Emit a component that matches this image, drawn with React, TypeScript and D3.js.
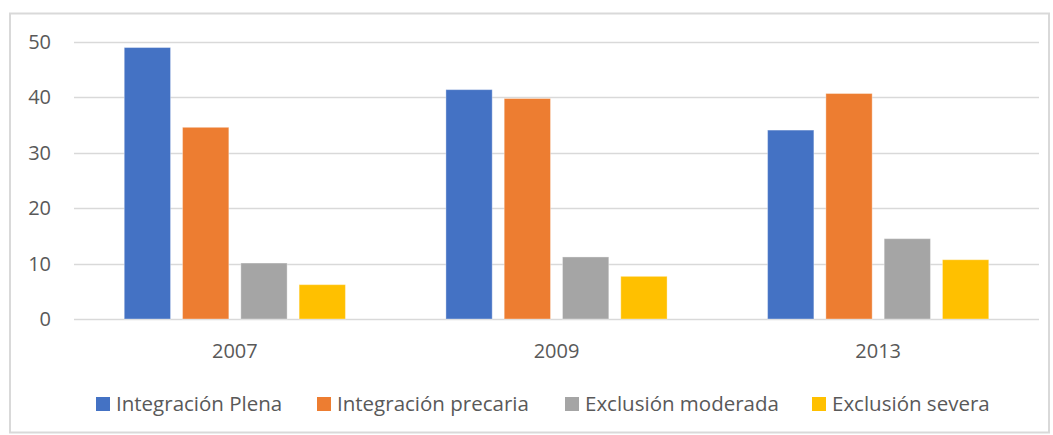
import React, { useEffect, useRef } from 'react';
import * as d3 from 'd3';

const years = ['2007', '2009', '2013'];
const seriesNames = ['Integración Plena', 'Integración precaria', 'Exclusión moderada', 'Exclusión severa'];
const seriesColors = ['#4472C4', '#ED7D31', '#A5A5A5', '#FFC000'];
const plena = [49.0, 41.4, 34.1];
const precaria = [34.6, 39.8, 40.7];
const moderada = [10.1, 11.2, 14.5];
const severa = [6.2, 7.7, 10.7];
const yTicks = [0, 10, 20, 30, 40, 50];

const W = 1053;
const H = 435;

const App = () => {
    const svgRef = useRef<SVGSVGElement>(null);

    useEffect(() => {
        const svg = d3.select(svgRef.current);
        svg.selectAll('*').remove();

        const margin = { top: 42, right: 14, bottom: 116, left: 74 };
        const width = W - margin.left - margin.right;
        const height = H - margin.top - margin.bottom;
        const font = 'Open Sans, Noto Sans, sans-serif';

        // borde exterior
        svg.append('rect')
            .attr('x', 10).attr('y', 13.5)
            .attr('width', W - 14).attr('height', H - 16)
            .attr('fill', '#fff').attr('stroke', '#d9d9d9').attr('stroke-width', 2);

        const g = svg.append('g')
            .attr('transform', `translate(${margin.left},${margin.top})`);

        const x0 = d3.scaleBand().domain(years).range([0, width]).padding(0);
        const x1 = d3.scaleBand().domain(seriesNames).range([0, x0.bandwidth()])
            .paddingInner(0.206).paddingOuter(0.862);
        const y = d3.scaleLinear().domain([0, 50]).range([height, 0]);

        // grid
        g.selectAll('.grid')
            .data(yTicks)
            .enter().append('line')
            .attr('x1', 0).attr('x2', width)
            .attr('y1', d => Math.round(y(d)) + 0.5).attr('y2', d => Math.round(y(d)) + 0.5)
            .attr('stroke', '#d9d9d9').attr('stroke-width', 1.5);

        g.selectAll('.ylab')
            .data(yTicks)
            .enter().append('text')
            .attr('x', -23).attr('y', d => y(d))
            .attr('dy', '0.35em')
            .attr('text-anchor', 'end')
            .attr('font-family', font).attr('font-size', 20)
            .attr('fill', '#595959')
            .text(d => d);

        const allSeries = [plena, precaria, moderada, severa];
        const rows = years.map((yr, i) => ({
            year: yr,
            vals: seriesNames.map((s, j) => ({ key: s, value: allSeries[j][i], color: seriesColors[j] }))
        }));

        const groups = g.selectAll('.grp')
            .data(rows)
            .enter().append('g')
            .attr('transform', d => `translate(${x0(d.year)},0)`);

        groups.selectAll('rect')
            .data(d => d.vals)
            .enter().append('rect')
            .attr('x', d => x1(d.key)!)
            .attr('width', x1.bandwidth())
            .attr('y', d => y(d.value))
            .attr('height', d => height - y(d.value))
            .attr('fill', d => d.color)
            .attr('stroke', 'rgba(255,255,255,0.35)')
            .attr('stroke-width', 1);

        g.selectAll('.xlab')
            .data(years)
            .enter().append('text')
            .attr('x', d => x0(d)! + x0.bandwidth() / 2)
            .attr('y', height + 39)
            .attr('text-anchor', 'middle')
            .attr('font-family', font).attr('font-size', 20)
            .attr('fill', '#595959')
            .text(d => d);

        // leyenda
        const legendX = [96, 317, 565, 812];
        const legend = svg.selectAll('.leg')
            .data(seriesNames)
            .enter().append('g')
            .attr('transform', (d, i) => `translate(${legendX[i]},397)`);
        legend.append('rect')
            .attr('width', 14).attr('height', 14)
            .attr('fill', (d, i) => seriesColors[i]);
        legend.append('text')
            .attr('x', 20).attr('y', 14)
            .attr('font-family', font).attr('font-size', 20.5)
            .attr('fill', '#595959')
            .text(d => d);
    }, []);

    return <svg ref={svgRef} width={W} height={H} style={{ position: 'absolute', left: 0, top: 0 }}></svg>;
};

export default App;
